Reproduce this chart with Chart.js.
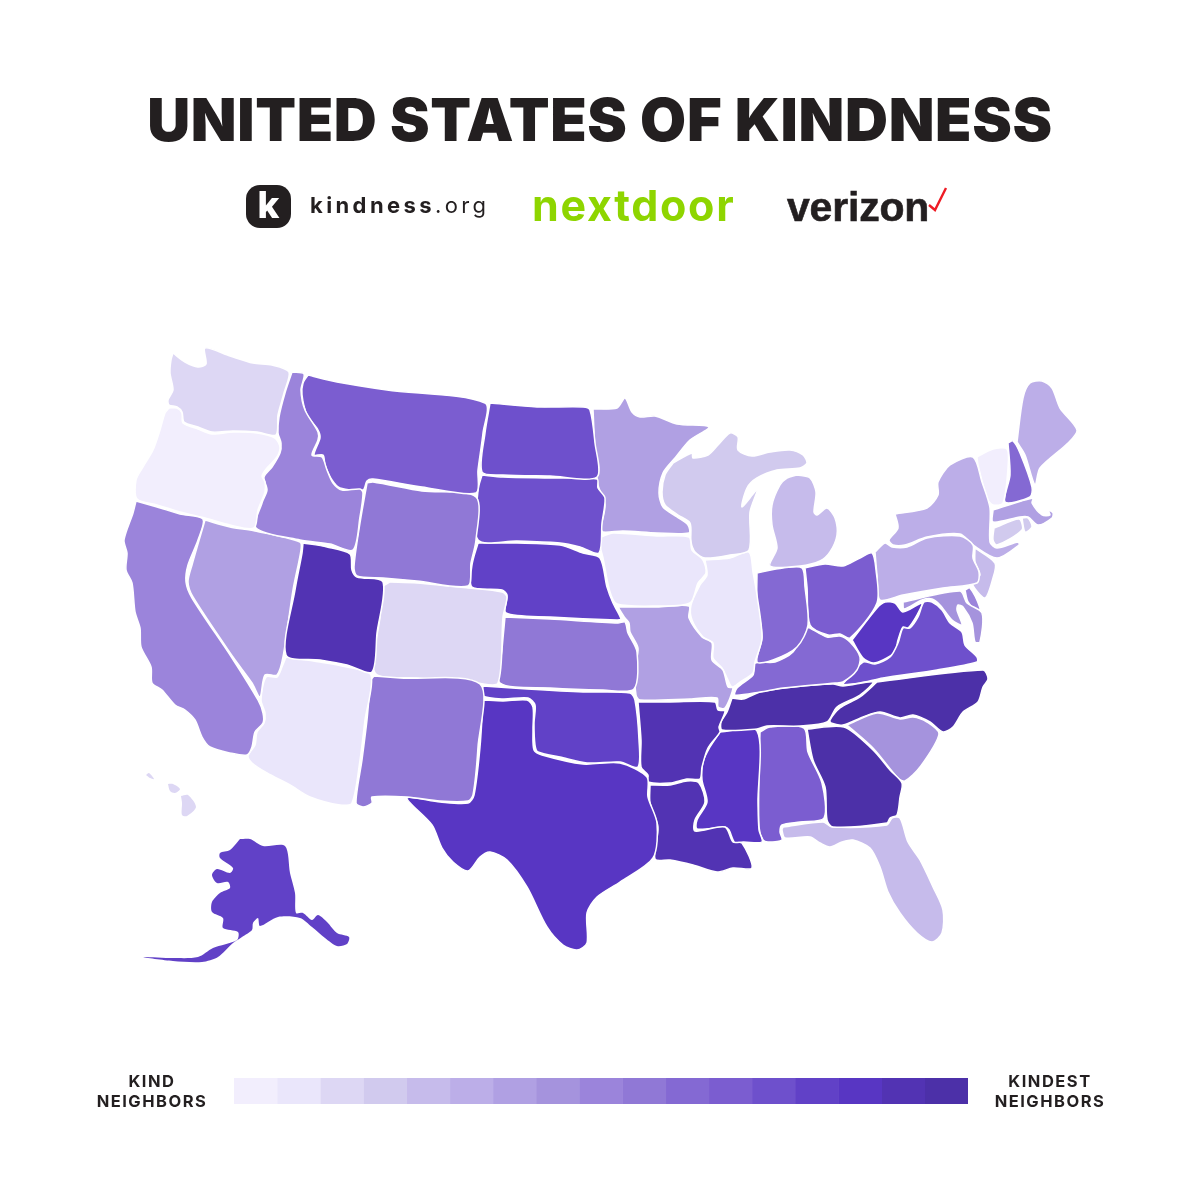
<!DOCTYPE html>
<html>
<head>
<meta charset="utf-8">
<script src="https://cdn.jsdelivr.net/npm/chart.js@4"></script>
<style>
html,body{margin:0;padding:0;background:#fff;}
#page{position:relative;width:1200px;height:1200px;overflow:hidden;color:#231f20;font-family:Inter,sans-serif;}
#page div,#page svg{position:absolute;}
#mapWrap{left:0;top:0;width:1200px;height:1200px;}
#legendWrap{left:234px;top:1078px;width:734px;height:26px;}
.t{white-space:nowrap;line-height:1;}
#title{left:0;width:1200px;top:90px;text-align:center;font-size:59.5px;font-weight:900;letter-spacing:.65px;}
#badge{left:246px;top:185px;width:45px;height:43px;border-radius:14px;background:#231f20;color:#fff;font-size:37px;font-weight:800;text-align:center;line-height:40px;}
#kind{left:310px;top:194px;font-size:22px;font-weight:700;letter-spacing:3.4px;}
#kind span{font-weight:400;}
#nextdoor{left:532px;top:184px;font-size:43px;font-weight:700;color:#8ed500;letter-spacing:1.7px;}
#verizon{left:787px;top:187px;font-size:41px;font-weight:700;letter-spacing:-.2px;font-family:"Liberation Sans",sans-serif;-webkit-text-stroke:.6px #231f20;}
.lab{font-size:16.5px;font-weight:700;letter-spacing:1.5px;text-align:center;width:160px;}
</style>
</head>
<body>
<div id="page">
<div id="mapWrap"><canvas id="map" width="1200" height="1200"></canvas></div>
<div id="title" class="t">UNITED STATES OF KINDNESS</div>
<div id="badge" class="t">k</div>
<div id="kind" class="t">kindness<span>.org</span></div>
<div id="nextdoor" class="t">nextdoor</div>
<div id="verizon" class="t">verizon</div>
<svg style="left:925px;top:185px" width="25" height="28"><polyline points="4,20 10,25 21,3" fill="none" stroke="#ee1c25" stroke-width="2.4"/></svg>
<div id="legendWrap"><canvas id="legend" width="734" height="26"></canvas></div>
<div class="t lab" style="left:72px;top:1073px">KIND</div>
<div class="t lab" style="left:72px;top:1093px">NEIGHBORS</div>
<div class="t lab" style="left:970px;top:1073px">KINDEST</div>
<div class="t lab" style="left:970px;top:1093px">NEIGHBORS</div>
</div>
<script>
// outlines, in map units
const WA=[[173,353],[185,362],[198,367],[206,364],[205,348],[230,356],[253,363],[272,365],[289,372],[284,393],[278,415],[276,435],[257,432],[233,431],[212,432],[198,427],[184,422],[182,412],[177,407],[169,405],[168,400],[173,390],[170,373],[171,360],[173,353]];
const OR=[[169,408],[177,408],[182,413],[183,423],[198,429],[212,434],[233,432],[257,433],[275,438],[280,447],[277,457],[267,468],[262,476],[265,482],[265,492],[258,510],[254,528],[230,525],[205,518],[180,512],[157,505],[137,499],[136,480],[143,467],[153,450],[160,430],[165,413],[169,408]];
const ID=[[292,372],[304,374],[301,390],[305,410],[318,432],[318,440],[312,455],[322,457],[327,470],[333,483],[342,490],[360,489],[363,493],[360,517],[353,550],[330,544],[300,540],[256,528],[262,503],[267,490],[264,477],[272,467],[280,453],[281,443],[278,433],[279,417],[285,393],[292,372]];
const MT=[[308,375],[337,382],[387,390],[485,403],[483,433],[478,470],[476,493],[422,487],[373,479],[367,481],[363,490],[340,488],[332,480],[325,465],[323,455],[314,455],[320,438],[318,430],[307,415],[302,395],[303,383],[308,375]];
const WY=[[367,483],[373,482],[422,491],[476,497],[476,540],[471,563],[468,586],[417,581],[383,578],[357,576],[354,567],[360,523],[367,483]];
const UT=[[303,543],[327,547],[350,554],[352,570],[357,577],[383,582],[377,633],[372,672],[347,665],[320,660],[286,655],[295,590],[302,553],[303,543]];
const NV=[[205,520],[230,527],[255,531],[300,542],[301,550],[293,590],[283,657],[277,675],[265,675],[260,697],[252,683],[233,657],[193,597],[188,582],[192,565],[205,520]];
const CA=[[136,501],[157,507],[180,514],[203,519],[198,540],[188,565],[186,582],[192,598],[232,658],[258,700],[263,713],[263,723],[255,732],[252,747],[247,755],[230,753],[210,747],[202,737],[195,720],[185,710],[175,705],[162,690],[152,683],[151,667],[141,647],[140,628],[135,612],[132,583],[126,570],[127,553],[124,540],[133,513],[136,501]];
const AZ=[[286,657],[320,662],[347,667],[371,675],[365,720],[360,760],[352,803],[340,805],[310,797],[290,785],[267,773],[252,763],[248,756],[255,745],[257,732],[264,723],[265,713],[261,700],[266,677],[277,677],[282,667],[286,657]];
const NM=[[374,676],[400,678],[480,684],[478,747],[473,795],[468,801],[440,801],[407,797],[372,797],[372,803],[363,807],[356,803],[362,760],[367,720],[371,680],[374,676]];
const CO=[[390,582],[417,583],[468,588],[502,592],[507,597],[503,617],[498,683],[477,683],[417,678],[375,673],[380,617],[383,587],[390,582]];
const ND=[[490,403],[537,407],[583,407],[590,410],[595,443],[597,477],[550,476],[503,475],[482,472],[485,433],[490,403]];
const SD=[[482,475],[503,477],[550,478],[597,479],[598,488],[605,498],[602,523],[599,553],[580,547],[560,543],[517,541],[478,540],[478,490],[482,475]];
const NE=[[478,543],[517,543],[560,545],[583,553],[600,558],[607,587],[613,603],[621,619],[617,620],[550,617],[506,613],[507,595],[502,590],[472,587],[472,565],[478,543]];
const KS=[[505,617],[550,619],[618,623],[625,622],[628,633],[637,652],[634,689],[603,690],[550,688],[500,683],[502,650],[505,617]];
const OK=[[483,686],[527,689],[583,692],[630,693],[635,700],[639,740],[638,767],[620,762],[587,763],[560,757],[538,752],[535,745],[534,723],[535,705],[528,698],[503,699],[483,696],[483,686]];
const TX=[[483,700],[503,701],[527,700],[533,707],[533,730],[534,750],[542,755],[583,764],[620,763],[647,777],[648,797],[657,823],[653,858],[620,882],[597,897],[587,913],[587,943],[577,950],[563,945],[547,927],[527,887],[507,860],[490,852],[480,857],[468,871],[453,862],[442,848],[432,825],[407,798],[440,802],[468,803],[474,795],[480,747],[483,700]];
const MN=[[593,409],[617,408],[625,398],[632,412],[640,417],[655,416],[677,424],[709,427],[690,440],[675,458],[663,473],[659,493],[663,507],[677,517],[688,525],[689,533],[657,533],[623,531],[603,532],[601,528],[605,505],[598,485],[595,452],[593,409]];
const IA=[[601,537],[613,533],[657,536],[689,537],[692,550],[703,560],[706,573],[698,583],[690,603],[657,606],[617,604],[610,592],[603,558],[600,545],[601,537]];
const MO=[[618,607],[657,607],[689,606],[689,618],[702,637],[712,643],[712,660],[723,670],[728,687],[733,688],[725,708],[718,707],[717,698],[690,699],[640,700],[636,695],[635,668],[638,648],[630,632],[629,623],[625,618],[618,607]];
const AR=[[638,702],[670,702],[715,702],[718,710],[725,711],[719,727],[720,732],[708,748],[702,767],[700,779],[687,779],[670,783],[648,782],[648,775],[641,767],[641,740],[638,702]];
const LA=[[650,785],[670,785],[687,781],[699,783],[705,802],[695,820],[695,831],[725,827],[733,842],[742,843],[752,868],[733,868],[717,872],[693,865],[670,860],[655,859],[658,827],[650,803],[650,785]];
const WI=[[673,463],[692,453],[693,458],[708,455],[718,445],[730,433],[738,437],[738,450],[752,456],[770,452],[790,450],[803,455],[807,463],[800,468],[777,470],[757,478],[747,488],[742,507],[757,490],[750,512],[749,550],[730,555],[705,558],[695,552],[691,542],[690,523],[678,515],[665,505],[662,492],[665,475],[673,463]];
const MI=[[797,475],[810,478],[816,492],[814,512],[817,515],[827,508],[835,518],[837,535],[830,552],[820,561],[800,566],[770,566],[777,548],[772,525],[772,505],[780,485],[787,478],[797,475]];
const IL=[[705,560],[730,558],[749,552],[753,572],[757,595],[762,638],[755,662],[753,673],[740,682],[732,687],[727,678],[722,668],[713,658],[713,643],[703,637],[692,620],[691,605],[700,585],[707,575],[705,560]];
const IN=[[757,573],[783,568],[802,568],[805,587],[808,625],[797,647],[773,660],[757,662],[762,637],[757,600],[757,573]];
const OH=[[805,568],[825,564],[843,566],[860,558],[872,553],[876,570],[877,603],[850,638],[840,634],[828,635],[810,625],[807,587],[805,568]];
const KY=[[810,628],[827,637],[840,636],[850,642],[860,657],[857,670],[843,682],[835,683],[783,688],[760,692],[735,695],[737,688],[753,675],[755,663],[775,662],[793,652],[807,628],[810,628]];
const TN=[[732,698],[743,699],[760,692],[793,687],[833,684],[843,686],[873,682],[860,695],[837,707],[827,722],[800,726],[767,726],[757,729],[722,730],[721,722],[727,712],[732,698]];
const MS=[[720,732],[757,731],[758,803],[759,830],[762,842],[743,842],[735,843],[729,830],[725,827],[697,829],[697,820],[707,802],[702,780],[703,762],[710,747],[720,732]];
const AL=[[760,732],[770,727],[804,728],[808,752],[822,783],[824,818],[800,822],[782,825],[780,832],[782,840],[768,842],[763,840],[759,827],[759,770],[760,732]];
const GA=[[807,729],[844,727],[873,750],[890,770],[902,783],[900,797],[897,815],[890,818],[887,823],[833,827],[827,820],[825,787],[813,760],[807,729]];
const FL=[[783,827],[823,822],[832,827],[887,825],[892,818],[900,818],[908,842],[920,860],[933,887],[943,910],[942,933],[932,942],[917,933],[900,913],[888,892],[880,867],[870,848],[853,840],[842,842],[830,847],[820,843],[810,837],[785,838],[782,830],[783,827]];
const SC=[[847,725],[877,713],[900,719],[913,717],[927,722],[939,734],[920,767],[905,781],[898,778],[873,748],[847,725]];
const NC=[[877,682],[983,670],[988,679],[983,687],[978,702],[963,712],[953,727],[943,732],[930,722],[913,715],[900,718],[880,712],[863,717],[843,725],[831,723],[830,720],[840,708],[860,697],[877,682]];
const VA=[[842,685],[863,662],[875,664],[890,657],[898,643],[903,628],[910,628],[918,617],[924,602],[932,602],[942,610],[950,623],[962,632],[965,645],[977,657],[977,662],[937,670],[883,678],[860,683],[842,685]];
const WV=[[852,640],[877,608],[885,602],[895,603],[903,612],[922,603],[917,615],[908,628],[903,627],[898,640],[895,652],[883,660],[873,663],[863,658],[852,640]];
const PA=[[875,552],[885,543],[892,547],[907,547],[927,538],[960,536],[973,545],[973,558],[979,572],[977,583],[943,588],[903,595],[880,600],[877,575],[875,552]];
const NY=[[895,514],[927,508],[938,495],[938,482],[950,465],[973,457],[982,482],[990,508],[990,542],[997,548],[1018,542],[1019,545],[997,558],[973,545],[960,534],[927,537],[905,545],[893,545],[889,540],[898,528],[895,514]];
const VT=[[977,457],[993,449],[1007,449],[1008,468],[1003,503],[993,505],[987,498],[978,465],[977,457]];
const NH=[[1008,443],[1013,441],[1020,453],[1032,487],[1030,497],[1005,502],[1010,475],[1008,443]];
const ME=[[1017,442],[1023,398],[1030,383],[1042,381],[1052,388],[1060,408],[1077,430],[1068,443],[1040,468],[1035,485],[1025,455],[1017,442]];
const MA=[[993,510],[1033,498],[1032,503],[1042,515],[1050,515],[1048,510],[1053,513],[1052,518],[1038,525],[1028,517],[1020,517],[993,522],[993,510]];
const CT=[[994,528],[1019,519],[1022,530],[997,545],[993,540],[994,528]];
const RI=[[1022,518],[1028,518],[1032,527],[1025,532],[1022,518]];
const NJ=[[975,548],[995,563],[993,578],[985,598],[972,583],[980,575],[975,562],[975,548]];
const MD=[[903,602],[960,591],[967,603],[982,613],[980,642],[975,642],[972,623],[963,607],[958,605],[957,610],[962,625],[952,620],[940,605],[932,599],[922,600],[904,609],[903,602]];
const DE=[[965,590],[970,588],[980,608],[978,612],[968,602],[965,590]];
const AK=[[240,839],[250,839],[263,846],[285,846],[290,873],[295,893],[296,913],[303,913],[312,920],[318,915],[327,922],[337,933],[349,937],[347,944],[337,946],[325,938],[312,927],[300,918],[278,917],[260,926],[258,918],[253,923],[252,930],[242,937],[233,943],[218,957],[202,962],[173,961],[143,957],[173,958],[198,957],[213,948],[237,940],[238,932],[223,928],[223,918],[212,912],[212,902],[220,893],[230,888],[228,882],[217,883],[212,875],[217,869],[230,873],[233,868],[220,858],[220,853],[230,850],[240,839]];
const HI1=[[146,775],[149,773],[154,779],[150,778],[146,775]];
const HI2=[[168,784],[173,784],[180,789],[175,793],[170,791],[168,784]];
const HI3=[[181,796],[188,795],[196,807],[187,816],[182,815],[182,803],[181,796]];

const stateNames=['WA','OR','ID','MT','WY','UT','NV','CA','AZ','NM','CO','ND','SD','NE','KS','OK','TX','MN','IA','MO','AR','LA','WI','MI','IL','IN','OH','KY','TN','MS','AL','GA','FL','SC','NC','VA','WV','PA','NY','VT','NH','ME','MA','CT','RI','NJ','MD','DE','AK','HI','HI','HI'];
const stateShapes=[WA,OR,ID,MT,WY,UT,NV,CA,AZ,NM,CO,ND,SD,NE,KS,OK,TX,MN,IA,MO,AR,LA,WI,MI,IL,IN,OH,KY,TN,MS,AL,GA,FL,SC,NC,VA,WV,PA,NY,VT,NH,ME,MA,CT,RI,NJ,MD,DE,AK,HI1,HI2,HI3];
const stateLevels=[2,0,8,11,9,15,6,8,1,9,2,12,12,13,9,13,14,6,1,6,15,15,3,4,1,10,11,10,16,14,11,16,4,7,16,12,14,5,5,0,10,5,6,3,3,4,7,8,13,2,2,2];
const legendSteps=[1,1,1,1,1,1,1,1,1,1,1,1,1,1,1,1,1];
const PALETTE=['#f2eefd','#eae6fb','#ddd7f4','#d1caee','#c6bbeb','#bcaee8','#b0a0e3','#a593dd','#9b84db','#9078d6','#8469d3','#7b5dd0','#6e50cc','#6141c7','#5836c3','#5233b3','#4c30a8'];

new Chart(document.getElementById('map'),{
	type:'scatter',
	data:{
		datasets:stateShapes.map((shape,i)=>({
			label:stateNames[i],
			data:shape.map(p=>({x:p[0],y:p[1]})),
			showLine:true,
			fill:'shape',
			tension:0.28,
			pointRadius:0,
			backgroundColor:PALETTE[stateLevels[i]],
			borderColor:'#fff',
			borderWidth:(stateNames[i]==='AK'||stateNames[i]==='HI')?0:1.5
		}))
	},
	options:{
		responsive:false,
		animation:false,
		events:[],
		layout:{padding:0},
		scales:{
			x:{type:'linear',display:false,min:0,max:1200},
			y:{type:'linear',display:false,min:0,max:1200,reverse:true}
		},
		plugins:{legend:{display:false},tooltip:{enabled:false}}
	}
});

new Chart(document.getElementById('legend'),{
	type:'bar',
	data:{
		labels:[''],
		datasets:legendSteps.map((v,i)=>({data:[v],backgroundColor:PALETTE[i],borderWidth:0,barPercentage:1,categoryPercentage:1}))
	},
	options:{
		indexAxis:'y',
		responsive:false,
		animation:false,
		events:[],
		layout:{padding:0},
		scales:{
			x:{stacked:true,display:false,min:0,max:legendSteps.length},
			y:{stacked:true,display:false}
		},
		plugins:{legend:{display:false},tooltip:{enabled:false}}
	}
});
</script>
</body>
</html>
